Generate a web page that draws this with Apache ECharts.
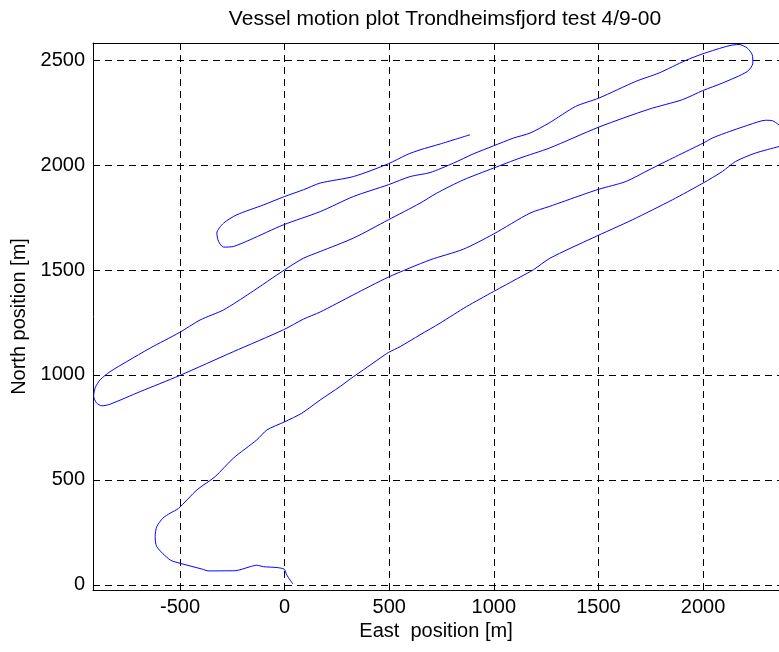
<!DOCTYPE html>
<html>
<head>
<meta charset="utf-8">
<script src="https://cdn.jsdelivr.net/npm/echarts@6/dist/echarts.min.js"></script>
<style>
  html, body { margin: 0; padding: 0; background: #fff; }
  #chart { width: 779px; height: 652px; }
</style>
</head>
<body>
<div id="chart"></div>
<script>
// vessel track (metres)
var eastPos = [
  39, 10, -2, -37, -101, -133, -165, -236, -364, -396, -499, -547, -611, -619, -611, -582, -547, -507,
  -419, -332, -245, -133, -85, 2, 82, 170, 265, 329, 376, 456, 496, 552, 647, 743, 870, 998, 1125, 1189,
  1268, 1471, 1662, 1853, 2000, 2092, 2156, 2251, 2363, 2395, 2410, 2395, 2363,
  2331, 2299, 2219, 2100, 2044, 2000, 1869, 1742, 1630, 1503, 1423, 1264, 1173, 998, 854, 695, 496, 329,
  170, 90, -6, -245, -503, -690, -834, -873, -900, -913, -905, -882, -834, -754, -643, -503, -404,
  -292, -165, 0, 90, 170, 329, 496, 647, 727, 854, 998, 1125, 1264, 1503, 1742, 1901, 2000, 2092, 2211,
  2238, 2235, 2211, 2172, 2124, 2000, 1917, 1789, 1678, 1503, 1391, 1264, 1173, 1093, 998, 902, 807,
  695, 600, 496, 329, 170, -6, -165, -245, -292, -316, -324, -292, -228, -101, 0, 90, 170, 329, 496,
  584, 647, 743, 886
];
var northPos = [
  5, 48, 75, 83, 87, 94, 87, 68, 67, 76, 103, 119, 182, 230, 278, 318, 342, 365,
  453, 516, 604, 691, 738, 778, 818, 881, 945, 992, 1024, 1080, 1107, 1135, 1191, 1247, 1326, 1397, 1466, 1501,
  1556, 1652, 1739, 1834, 1914, 1969, 2017, 2057, 2088, 2098, 2130, 2165, 2191,
  2211, 2213, 2191, 2150, 2128, 2104, 2040, 1977, 1921, 1885, 1858, 1802, 1771, 1671, 1599, 1548, 1466, 1382,
  1300, 1266, 1215, 1111, 997, 921, 861, 853, 868, 900, 940, 977, 1016, 1064, 1128, 1202, 1262,
  1310, 1390, 1501, 1556, 1588, 1652, 1739, 1818, 1866, 1929, 1985, 2033, 2080, 2181, 2266, 2311, 2355, 2390, 2445,
  2485, 2525, 2557, 2574, 2568, 2530, 2498, 2438, 2398, 2319, 2279, 2200, 2152, 2128, 2091, 2053, 2009,
  1964, 1945, 1906, 1850, 1778, 1715, 1644, 1612, 1609, 1636, 1676, 1723, 1763, 1810, 1850, 1882, 1914, 1945, 2006,
  2049, 2072, 2100, 2144
];
var xTicks = [-500, 0, 500, 1000, 1500, 2000];
var yTicks = [0, 500, 1000, 1500, 2000, 2500];

var track = eastPos.map(function (e, i) { return [e, northPos[i]]; });

var chart = echarts.init(document.getElementById('chart'));
var font = 'Liberation Sans, Arial, Helvetica, sans-serif';
var gridDash = {
  show: true,
  lineStyle: { color: '#000', width: 1, type: [7, 5] }
};
var plain = function (v) { return String(v); }; // no thousands separator

chart.setOption({
  animation: false,
  title: {
    text: 'Vessel motion plot Trondheimsfjord test 4/9-00',
    left: 440,
    top: 4,
    textAlign: 'center',
    textStyle: { color: '#000', fontWeight: 'normal', fontSize: 21, fontFamily: font }
  },
  grid: { left: 93, right: 0, top: 43, bottom: 62 },
  xAxis: [{
    type: 'value',
    min: -916,
    max: 2363,
    name: 'East  position [m]',
    nameLocation: 'middle',
    nameGap: 28,
    nameTextStyle: { color: '#000', fontSize: 20, fontFamily: font },
    axisLine: { show: true, onZero: false, lineStyle: { color: '#000', width: 1 } },
    axisTick: { show: true, inside: true, length: 5, customValues: xTicks, lineStyle: { color: '#000' } },
    axisLabel: { color: '#000', fontSize: 20, fontFamily: font, margin: 7, customValues: xTicks, formatter: plain },
    splitLine: gridDash
  }, {
    type: 'value',
    position: 'top',
    min: -916,
    max: 2363,
    axisLine: { show: true, onZero: false, lineStyle: { color: '#000', width: 1 } },
    axisTick: { show: true, inside: true, length: 5, customValues: xTicks, lineStyle: { color: '#000' } },
    axisLabel: { show: false },
    splitLine: { show: false }
  }],
  yAxis: {
    type: 'value',
    min: -24,
    max: 2581,
    name: 'North position [m]',
    nameLocation: 'middle',
    nameGap: 52,
    nameTextStyle: { color: '#000', fontSize: 20, fontFamily: font },
    axisLine: { show: true, onZero: false, lineStyle: { color: '#000', width: 1 } },
    axisTick: { show: true, inside: true, length: 5, customValues: yTicks, lineStyle: { color: '#000' } },
    axisLabel: { color: '#000', fontSize: 20, fontFamily: font, margin: 8, customValues: yTicks, formatter: plain },
    splitLine: gridDash
  },
  series: [{
    type: 'line',
    data: track,
    showSymbol: false,
    smooth: 0.25,
    clip: true,
    lineStyle: { color: '#0000ff', width: 1 }
  }]
});
</script>
</body>
</html>
